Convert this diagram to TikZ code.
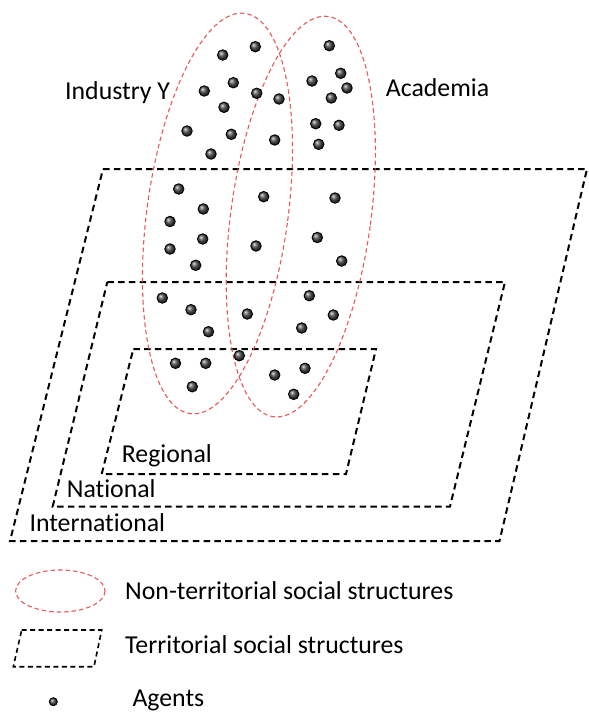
\documentclass[tikz,border=0pt]{standalone}
\usepackage{fontspec}
\setmainfont[Ligatures=NoCommon]{Carlito}
\definecolor{ellred}{RGB}{232,88,88}
\begin{document}
\begin{tikzpicture}[x=1pt,y=-1pt,
  terr/.style={draw=black, line width=2pt, dash pattern=on 6.5pt off 4.3pt, line join=miter},
  nonterr/.style={draw=ellred, line width=1.1pt, dash pattern=on 4.5pt off 3pt},
  agent/.style={circle, inner sep=0pt, minimum size=10.5pt, shade, ball color=black!70, draw=black, line width=0.9pt},
  smallagent/.style={agent, minimum size=8pt},
  lbl/.style={anchor=base west, inner sep=0pt, font=\fontsize{25.8}{30}\selectfont}]
\useasboundingbox (0,0) rectangle (589,713);
\fill[white] (0,0) rectangle (589,713);
% territorial structures
\draw[terr] (103,169) -- (587,169) -- (499.5,541) -- (10,541) -- cycle;
\draw[terr] (107.3,282) -- (505,282) -- (450,506.5) -- (52.7,506.5) -- cycle;
\draw[terr] (133.3,349) -- (376,349) -- (346,474) -- (101.7,474) -- cycle;
% non-territorial structures
\draw[nonterr, rotate around={-7.8:(217.5,213.5)}] (217.5,213.5) ellipse [x radius=70.5, y radius=202];
\draw[nonterr, rotate around={-7.8:(300.8,216.6)}] (300.8,216.6) ellipse [x radius=70, y radius=202];
% agents
\foreach \p [count=\i] in {(255.3,46.7),(222.7,55),(329.3,45.7),(233.3,82.7),(204.3,91),(256.7,93.3),(279,99),(340.7,73.3),(312,81),(347,88),(331.3,98),(224,107.3),(187,131),(231.3,134.3),(274.7,140),(315.7,123.7),(339,125.3),(318.7,144.3),(211,154),(178.7,189),(263.7,196.7),(335,198),(203.3,209),(170,221.5),(202.7,239),(256,246),(317.3,237.5),(170,249),(341.7,261),(195.7,265.3),(162.3,298),(309.3,295.7),(191,309.7),(247.3,314),(333.3,315),(301.7,328),(208.5,331.7),(239.3,355.7),(175.5,363.3),(205.7,363.3),(274.7,375),(305,368.3),(192.3,386.7),(293.7,394.3)}
  \node[agent] (a\i) at \p {};
% labels
\node[lbl] (industry) at (65,99) {Industry Y};
\node[lbl] (academia) at (385.7,96.7) {Academia};
\node[lbl] (regional) at (121.7,462.3) {Regional};
\node[lbl] (national) at (66.7,497.7) {National};
\node[lbl] (international) at (29.3,531) {International};
% legend
\draw[nonterr] (60.3,591) ellipse [x radius=44.7, y radius=21];
\draw[terr, line width=1.6pt, dash pattern=on 5pt off 3.5pt] (21.7,630) -- (101.7,630) -- (94,666.7) -- (13.3,666.7) -- cycle;
\node[smallagent] (legagent) at (53.3,701.7) {};
\node[lbl] (legnon) at (125,599) {Non-territorial social structures};
\node[lbl] (legterr) at (125,653.3) {Territorial social structures};
\node[lbl] (legagents) at (132.3,706.7) {Agents};
\end{tikzpicture}
\end{document}
